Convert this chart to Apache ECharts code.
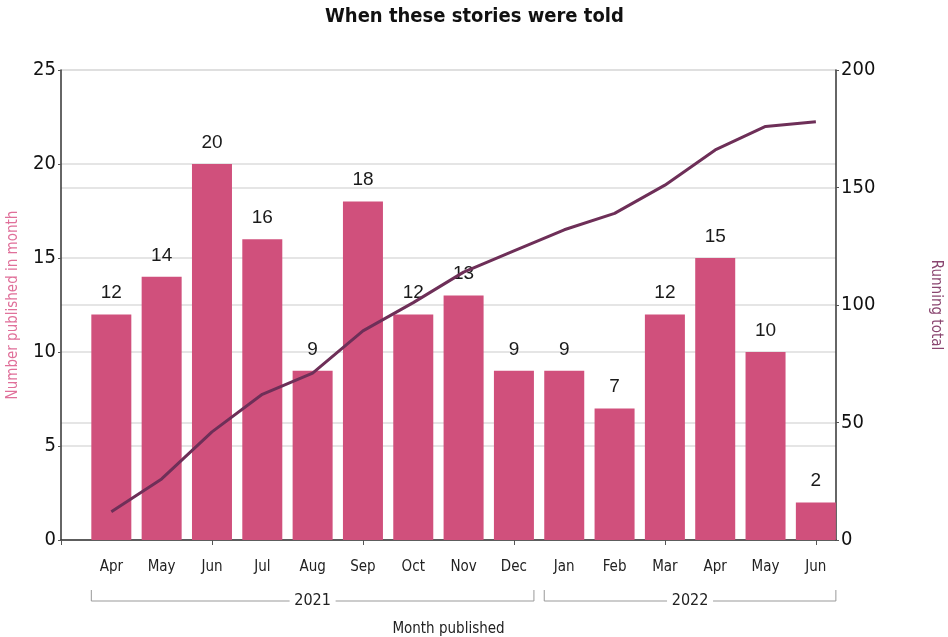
<!DOCTYPE html>
<html>
<head>
<meta charset="utf-8">
<title>When these stories were told</title>
<script src="https://cdn.jsdelivr.net/npm/echarts@6/dist/echarts.min.js"></script>
<style>
  html, body { margin: 0; padding: 0; background: #fff; }
  #chart { width: 948px; height: 637px; }
</style>
</head>
<body>
<div id="chart"></div>
<script>
// Months in publication order (Apr 2021 – Jun 2022)
const months = ['Apr', 'May', 'Jun', 'Jul', 'Aug', 'Sep', 'Oct', 'Nov', 'Dec',
                'Jan', 'Feb', 'Mar', 'Apr', 'May', 'Jun'];
// Stories published in each month
const published = [12, 14, 20, 16, 9, 18, 12, 13, 9, 9, 7, 12, 15, 10, 2];
// Running total of stories
const runningTotal = [12, 26, 46, 62, 71, 89, 101, 114, 123, 132, 139, 151, 166, 176, 178];
// Year groups: label, first month index, last month index
const years = [
  { label: '2021', from: 0, to: 8 },
  { label: '2022', from: 9, to: 14 }
];
// Axis ticks
const leftTicks = [0, 5, 10, 15, 20, 25];
const rightTicks = [0, 50, 100, 150, 200];
const xTickPositions = [0, 3, 6, 9, 12, 15];

const FONT = 'DejaVu Sans Condensed';
const BAR_W = 40;

const positions = months.map((m, i) => i + 1);
const barData = positions.map((p, i) => [p, published[i]]);
const lineData = positions.map((p, i) => [p, runningTotal[i]]);

const chart = echarts.init(document.getElementById('chart'), null, { renderer: 'canvas' });

const option = {
  backgroundColor: '#ffffff',
  animation: false,
  title: {
    text: 'When these stories were told',
    left: 320,
    top: 2,
    textStyle: { fontFamily: FONT, fontWeight: 'bold', fontSize: 20, color: '#111' }
  },
  grid: { left: 61, right: 112, top: 70, bottom: 97, outerBoundsMode: 'none', containLabel: false },
  xAxis: {
    type: 'value',
    min: 0,
    max: 15.4,
    name: 'Month published',
    nameLocation: 'middle',
    nameGap: 82,
    nameTextStyle: { fontFamily: FONT, fontSize: 15, color: '#222' },
    axisLine: { show: true, lineStyle: { color: '#333', width: 1.5 } },
    axisTick: { show: true, length: 5, customValues: xTickPositions, lineStyle: { color: '#555' } },
    axisLabel: {
      customValues: positions,
      margin: 20,
      fontFamily: FONT,
      fontSize: 15,
      color: '#222',
      formatter: v => months[v - 1] || ''
    },
    splitLine: { show: false }
  },
  yAxis: [
    {
      type: 'value',
      min: 0,
      max: 25,
      interval: 5,
      position: 'left',
      name: 'Number published in month',
      nameLocation: 'middle',
      nameGap: 40,
      nameRotate: 90,
      nameTextStyle: { fontFamily: FONT, fontSize: 15, color: '#e0709a' },
      axisLine: { show: true, lineStyle: { color: '#333', width: 1.5 } },
      axisTick: { show: true, length: 3, lineStyle: { color: '#555' } },
      axisLabel: { fontFamily: FONT, fontSize: 20, color: '#111', margin: 5 },
      splitLine: { show: true, lineStyle: { color: '#dcdcdc', width: 1.5 } }
    },
    {
      type: 'value',
      min: 0,
      max: 200,
      interval: 50,
      position: 'right',
      name: 'Running total',
      nameLocation: 'middle',
      nameGap: 92,
      nameRotate: -90,
      nameTextStyle: { fontFamily: FONT, fontSize: 15, color: '#8a4670' },
      axisLine: { show: true, lineStyle: { color: '#333', width: 1.5 } },
      axisTick: { show: true, length: 3, lineStyle: { color: '#555' } },
      axisLabel: { fontFamily: FONT, fontSize: 20, color: '#111', margin: 5 },
      splitLine: { show: true, lineStyle: { color: '#dcdcdc', width: 1.5 } }
    }
  ],
  series: [
    {
      name: 'Number published in month',
      type: 'bar',
      yAxisIndex: 0,
      barWidth: BAR_W,
      data: barData,
      itemStyle: { color: '#d0507c' },
      label: {
        show: true,
        position: 'top',
        distance: 12,
        fontFamily: 'Liberation Sans',
        fontSize: 19,
        color: '#1a1a1a',
        formatter: p => p.value[1]
      },
      z: 2
    },
    {
      name: 'Running total',
      type: 'line',
      yAxisIndex: 1,
      data: lineData,
      symbol: 'none',
      lineStyle: { color: '#6e2f58', width: 3 },
      zlevel: 1,
      z: 4
    }
  ]
};

chart.setOption(option);

// Year brackets beneath the month labels
function drawYearBrackets() {
  const unit = chart.convertToPixel({ xAxisIndex: 0 }, 2) - chart.convertToPixel({ xAxisIndex: 0 }, 1);
  const halfBarUnits = BAR_W / 2 / unit;
  const baseY = chart.convertToPixel({ yAxisIndex: 0 }, 0);
  const lineY = baseY + 61;
  const children = [];
  years.forEach(y => {
    const x1 = chart.convertToPixel({ xAxisIndex: 0 }, positions[y.from] - halfBarUnits);
    const x2 = chart.convertToPixel({ xAxisIndex: 0 }, positions[y.to] + halfBarUnits);
    const cx = (x1 + x2) / 2;
    const gap = 23;
    const stroke = { stroke: '#999', lineWidth: 1 };
    children.push(
      { type: 'line', shape: { x1: x1, y1: lineY - 11, x2: x1, y2: lineY }, style: stroke },
      { type: 'line', shape: { x1: x2, y1: lineY - 11, x2: x2, y2: lineY }, style: stroke },
      { type: 'line', shape: { x1: x1, y1: lineY, x2: cx - gap, y2: lineY }, style: stroke },
      { type: 'line', shape: { x1: cx + gap, y1: lineY, x2: x2, y2: lineY }, style: stroke },
      {
        type: 'text',
        x: cx, y: lineY,
        style: {
          text: y.label,
          fontFamily: FONT,
          fontSize: 16,
          fill: '#222',
          align: 'center',
          verticalAlign: 'middle'
        }
      }
    );
  });
  chart.setOption({ graphic: [{ type: 'group', children: children }] });
}
drawYearBrackets();
</script>
</body>
</html>
